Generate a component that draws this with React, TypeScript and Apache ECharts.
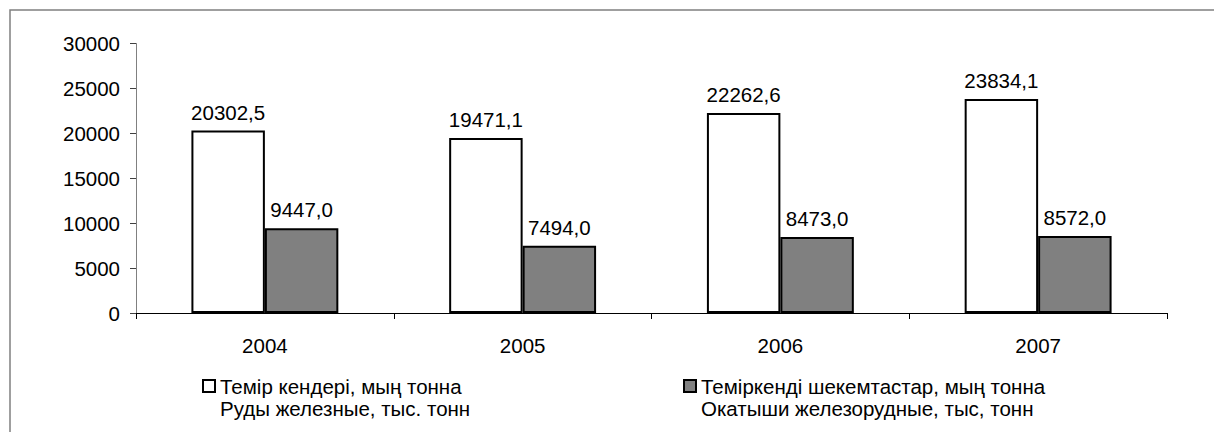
import React, { useEffect, useRef } from "react";
import * as echarts from "echarts";

const years = ["2004", "2005", "2006", "2007"];
const ore = [20302.5, 19471.1, 22262.6, 23834.1];
const pellets = [9447.0, 7494.0, 8473.0, 8572.0];
const oreName = "Темір кендері, мың тонна\nРуды железные, тыс. тонн";
const pelletName = "Теміркенді шекемтастар, мың тонна\nОкатыши железорудные, тыс, тонн";

const FONT = "Arial, 'Liberation Sans', sans-serif";
const FS = 20.5;

export default function App() {
  const ref = useRef<HTMLDivElement>(null);
  useEffect(() => {
    document.body.style.margin = "0";
    const chart = echarts.init(ref.current!, null, { renderer: "svg" });
    const fmt = (p: any) => Number(p.value).toFixed(1).replace(".", ",");
    const legendText = {
      color: "#000",
      fontFamily: FONT,
      fontSize: FS,
      lineHeight: 22,
    };
    const legendBase = {
      top: 353,
      padding: 0,
      icon: "rect",
      itemWidth: 12,
      itemHeight: 12,
      textStyle: legendText,
      selectedMode: false,
      formatter: (name: string) => " \n" + name,
    };
    chart.setOption({
      animation: false,
      backgroundColor: "#fff",
      textStyle: { fontFamily: FONT },
      grid: { left: 136, top: 43.5, right: 47, bottom: 119, containLabel: false },
      graphic: [
        {
          type: "rect",
          shape: { x: 10, y: 10, width: 1400, height: 600 },
          style: { fill: "none", stroke: "#808080", lineWidth: 1.5 },
          silent: true,
          z: -10,
        },
      ],
      legend: [
        { ...legendBase, left: 202, data: [oreName] },
        { ...legendBase, left: 683, data: [pelletName] },
      ],
      xAxis: {
        type: "category",
        data: years,
        axisLine: { lineStyle: { color: "#000", width: 1 } },
        axisTick: { show: true, length: 6, lineStyle: { color: "#000" } },
        axisLabel: { color: "#000", fontSize: FS, fontFamily: FONT, margin: 22 },
      },
      yAxis: {
        type: "value",
        min: 0,
        max: 30000,
        interval: 5000,
        axisLine: { show: true, lineStyle: { color: "#808080", width: 1 } },
        axisTick: { show: true, length: 6, lineStyle: { color: "#404040" } },
        splitLine: { show: false },
        axisLabel: {
          color: "#000",
          fontSize: FS,
          fontFamily: FONT,
          margin: 16,
          formatter: (v: number) => String(v),
        },
      },
      series: [
        {
          name: oreName,
          type: "bar",
          data: ore,
          barGap: "0%",
          barCategoryGap: "43%",
          itemStyle: { color: "#ffffff", borderColor: "#000", borderWidth: 2 },
          label: {
            show: true,
            position: "top",
            distance: 8,
            color: "#000",
            fontSize: FS,
            fontFamily: FONT,
            formatter: fmt,
          },
        },
        {
          name: pelletName,
          type: "bar",
          data: pellets,
          itemStyle: { color: "#808080", borderColor: "#000", borderWidth: 2 },
          label: {
            show: true,
            position: "top",
            distance: 8,
            color: "#000",
            fontSize: FS,
            fontFamily: FONT,
            formatter: fmt,
          },
        },
      ],
    });
    return () => chart.dispose();
  }, []);
  return <div ref={ref} style={{ width: 1214, height: 432 }} />;
}
